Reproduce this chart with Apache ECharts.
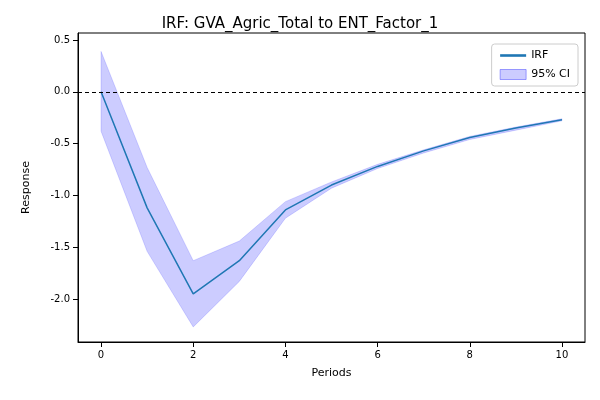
<!DOCTYPE html>
<html><head><meta charset="utf-8">
<script src="https://cdn.jsdelivr.net/npm/echarts@6/dist/echarts.min.js"></script>
<style>html,body{margin:0;padding:0;background:#fff}</style>
</head><body>
<div id="c" style="width:600px;height:400px"></div>
<script>
const periods = [0,1,2,3,4,5,6,7,8,9,10];
const irf   = [0,-1.12,-1.95,-1.63,-1.14,-0.90,-0.72,-0.57,-0.44,-0.35,-0.27];
const upper = [0.39,-0.73,-1.63,-1.44,-1.06,-0.87,-0.70,-0.56,-0.43,-0.34,-0.26];
const lower = [-0.38,-1.54,-2.27,-1.83,-1.22,-0.93,-0.74,-0.59,-0.46,-0.37,-0.28];
const xTicks = [0,2,4,6,8,10];
const yTicks = [0.5,0,-0.5,-1,-1.5,-2];

const pair = (arr)=>periods.map((p,i)=>[p,arr[i]]);
const band = periods.map((p,i)=>[p, lower[i], upper[i]]);
const font = {fontFamily:'DejaVu Sans', color:'#000', fontSize:10};
const chart = echarts.init(document.getElementById('c'));
chart.setOption({
  animation:false,
  title:{text:'IRF: GVA_Agric_Total to ENT_Factor_1', left:'center', top:12,
    textStyle:{fontFamily:'DejaVu Sans', fontWeight:'normal', fontSize:15, color:'#000'}},
  grid:{left:78, right:15, top:33, bottom:58, show:true, borderColor:'#000', borderWidth:1},
  legend:{right:22, top:44, orient:'vertical', itemWidth:26, itemHeight:10,
    borderColor:'#ccc', borderWidth:1, borderRadius:3, padding:[6,8],
    textStyle:{fontFamily:'DejaVu Sans', fontSize:11, color:'#000'},
    data:[{name:'IRF', icon:'path://M0,0L10,0L10,1L0,1Z'},
          {name:'95% CI', icon:'rect', itemStyle:{color:'rgba(0,0,255,0.2)', borderColor:'rgba(0,0,255,0.35)', borderWidth:1}}]},
  xAxis:{type:'value', min:-0.5, max:10.5, name:'Periods', nameLocation:'middle', nameGap:26,
    nameTextStyle:{fontFamily:'DejaVu Sans', fontSize:11, color:'#000'},
    splitLine:{show:false},
    axisLine:{onZero:false, lineStyle:{color:'#000'}},
    axisTick:{customValues:xTicks, lineStyle:{color:'#000'}},
    axisLabel:Object.assign({customValues:xTicks}, font)},
  yAxis:{type:'value', min:-2.415, max:0.568, name:'Response', nameLocation:'middle', nameGap:46,
    nameTextStyle:{fontFamily:'DejaVu Sans', fontSize:11, color:'#000'},
    splitLine:{show:false},
    axisLine:{show:true, onZero:false, lineStyle:{color:'#000'}},
    axisTick:{show:true, customValues:yTicks, lineStyle:{color:'#000'}},
    axisLabel:Object.assign({customValues:yTicks, formatter:v=>v.toFixed(1)}, font)},
  series:[
    {name:'95% CI', type:'custom', data:band, encode:{x:0, y:[1,2]},
     itemStyle:{color:'rgba(0,0,255,0.2)'},
     renderItem:function(params, api){
       if (params.dataIndex !== 0) return null;
       const top = band.map(d=>api.coord([d[0], d[2]]));
       const bot = band.map(d=>api.coord([d[0], d[1]])).reverse();
       return {type:'polygon', shape:{points: top.concat(bot)},
         style:{fill:'rgba(0,0,255,0.2)', stroke:'rgba(0,0,255,0.15)', lineWidth:1}};
     }},
    {name:'IRF', type:'line', data:pair(irf), symbol:'none', itemStyle:{color:'#1f77b4'},
     lineStyle:{color:'#1f77b4', width:1.5}, z:3,
     markLine:{silent:true, symbol:'none', label:{show:false},
       lineStyle:{color:'#000', type:[4,3], width:1}, data:[{yAxis:0}]}}
  ]
});
</script>
</body></html>
